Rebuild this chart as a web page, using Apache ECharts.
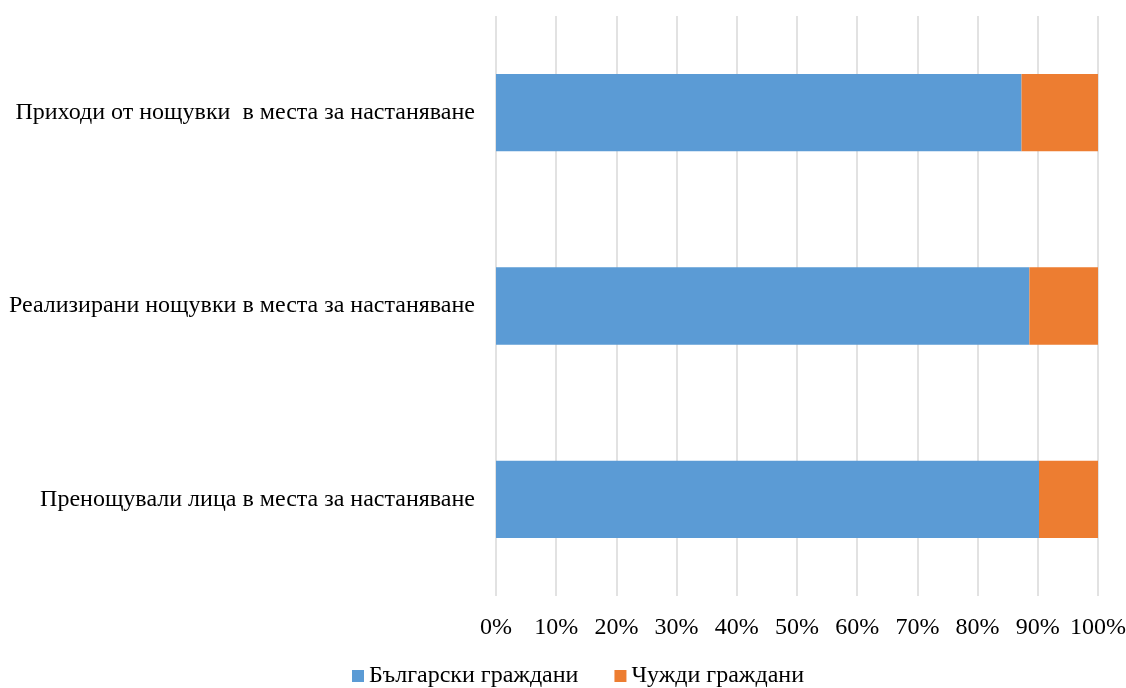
<!DOCTYPE html>
<html><head><meta charset="utf-8">
<script src="https://cdn.jsdelivr.net/npm/echarts@6/dist/echarts.min.js"></script>
<style>html,body{margin:0;padding:0;background:#fff}#c{width:1126px;height:688px}</style>
</head><body><div id="c"></div>
<script>
const categories = [
  "Пренощували лица в места за настаняване",
  "Реализирани нощувки в места за настаняване",
  "Приходи от нощувки  в места за настаняване"
];
const bulgarian = [90.2, 88.6, 87.3];
const foreign = [9.8, 11.4, 12.7];
const seriesNames = ["Български граждани", "Чужди граждани"];

const chart = echarts.init(document.getElementById('c'));
const font = '"Liberation Serif", "Times New Roman", serif';
chart.setOption({
  animation: false,
  textStyle: {fontFamily: font},
  grid: {left: 496, right: 28, top: 16, bottom: 92, containLabel: false, outerBoundsMode: 'none'},
  legend: {
    top: 659, left: 347, itemWidth: 12, itemHeight: 12, itemGap: 36,
    icon: 'rect',
    textStyle: {fontFamily: font, fontSize: 24, color: '#000'},
    data: seriesNames
  },
  xAxis: {
    type: 'value', min: 0, max: 100, interval: 10,
    axisLabel: {formatter: '{value}%', fontFamily: font, fontSize: 24, color: '#000', margin: 20},
    splitLine: {lineStyle: {color: '#d9d9d9', width: 1.5}},
    axisLine: {show: false}, axisTick: {show: false}
  },
  yAxis: {
    type: 'category', data: categories,
    axisLabel: {fontFamily: font, fontSize: 24, color: '#000', margin: 21},
    axisLine: {show: false}, axisTick: {show: false}
  },
  series: [
    {name: seriesNames[0], type: 'bar', stack: 's', data: bulgarian, barCategoryGap: '60%',
     itemStyle: {color: '#5b9bd5'}},
    {name: seriesNames[1], type: 'bar', stack: 's', data: foreign, barCategoryGap: '60%',
     itemStyle: {color: '#ed7d31'}}
  ]
});
</script></body></html>
